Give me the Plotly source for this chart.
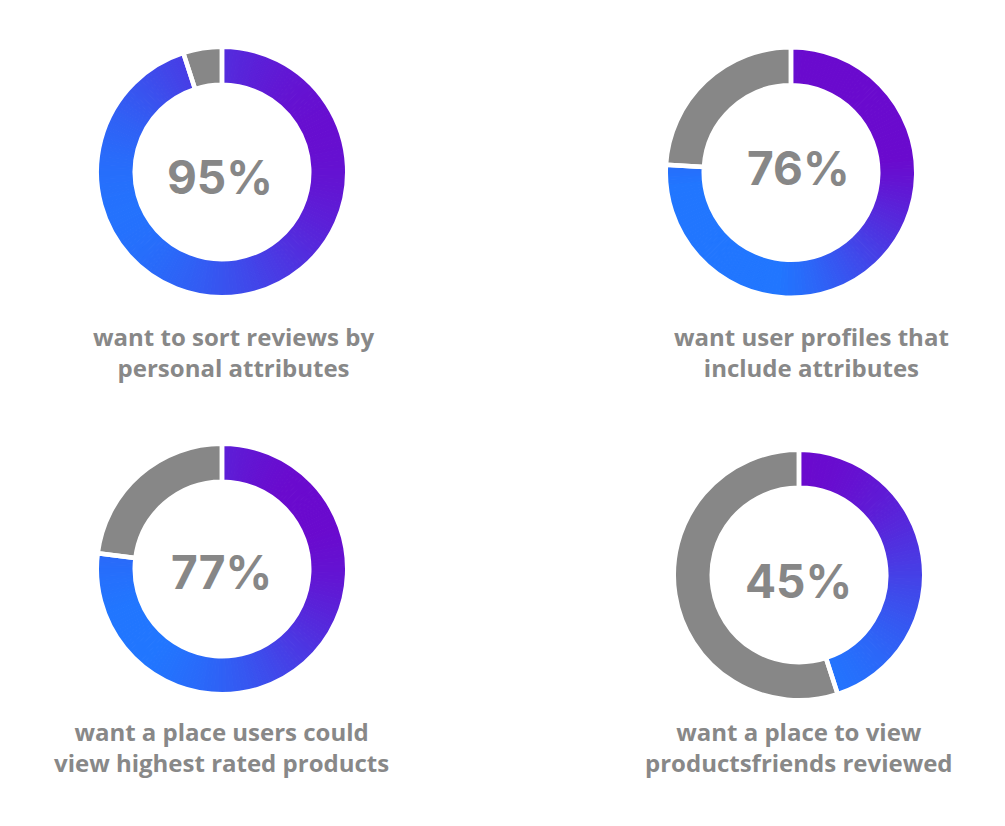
import plotly.graph_objects as go
import numpy as np

# ---- data ----
percent = [95, 76, 77, 45]
pct_labels = ["95%", "76%", "77%", "45%"]
captions = [
    "want to sort reviews by<br>personal attributes",
    "want user profiles that<br>include attributes",
    "want a place users could<br>view highest rated products",
    "want a place to view<br>productsfriends reviewed",
]

# ---- styling / layout ----
W, H = 1005, 826
centers = [(222, 172), (791, 172.5), (222, 569), (799, 575)]
label_pos = [(220, 177), (798, 168), (221, 572), (798, 580.5)]
caption_pos = [(233, 352), (811, 352), (221, 747), (799, 747)]
grad = [(-0.425, 0.175), (-0.45, 0.45), (-0.42, 0.3), (0.0, 0.5)]
R_vis, r_vis = 123, 89.5
gap = 4.5
R_pie = R_vis + gap / 2
hole = (r_vis - gap / 2) / R_pie
purple = np.array([106, 10, 206])
blue = np.array([33, 118, 255])
gray = "#878787"

fig = go.Figure()
for k, pct in enumerate(percent):
    cx, cy = centers[k]
    dom = dict(x=[(cx - R_pie) / W, (cx + R_pie) / W],
               y=[1 - (cy + R_pie) / H, 1 - (cy - R_pie) / H])
    n = int(pct * 2)
    vals = [pct / n] * n + [100 - pct]
    cols = []
    gx, gy = grad[k]
    for i in range(n):
        th = 2 * np.pi * (i + 0.5) / n * pct / 100
        t = np.clip(0.5 + gx * np.sin(th) + gy * (-np.cos(th)), 0, 1)
        c = purple + (blue - purple) * t
        cols.append("rgb(%d,%d,%d)" % tuple(c.round().astype(int)))
    fig.add_trace(go.Pie(
        values=vals, sort=False, direction="clockwise", rotation=0,
        hole=hole, domain=dom, textinfo="none", hoverinfo="skip",
        showlegend=False,
        marker=dict(colors=cols + [gray],
                    line=dict(color=cols + [gray], width=[1] * n + [0]))))
    fig.add_trace(go.Pie(
        values=[pct, 100 - pct], sort=False, direction="clockwise", rotation=0,
        hole=hole, domain=dom, textinfo="none", hoverinfo="skip",
        showlegend=False,
        marker=dict(colors=["rgba(0,0,0,0)"] * 2,
                    line=dict(color="white", width=gap))))
    lx, ly = label_pos[k]
    fig.add_annotation(x=lx / W, y=1 - ly / H, xref="paper", yref="paper",
                       text=pct_labels[k], showarrow=False,
                       xanchor="center", yanchor="middle",
                       font=dict(family="Inter", size=46, color=gray, weight=700))
    qx, qy = caption_pos[k]
    fig.add_annotation(x=qx / W, y=1 - qy / H, xref="paper", yref="paper",
                       text=captions[k], showarrow=False,
                       xanchor="center", yanchor="middle", align="center",
                       font=dict(family="Open Sans", size=24, color="#888888", weight=700))

fig.update_layout(width=W, height=H, margin=dict(l=0, r=0, t=0, b=0),
                  paper_bgcolor="white", plot_bgcolor="white")
fig.write_html("out.html")
